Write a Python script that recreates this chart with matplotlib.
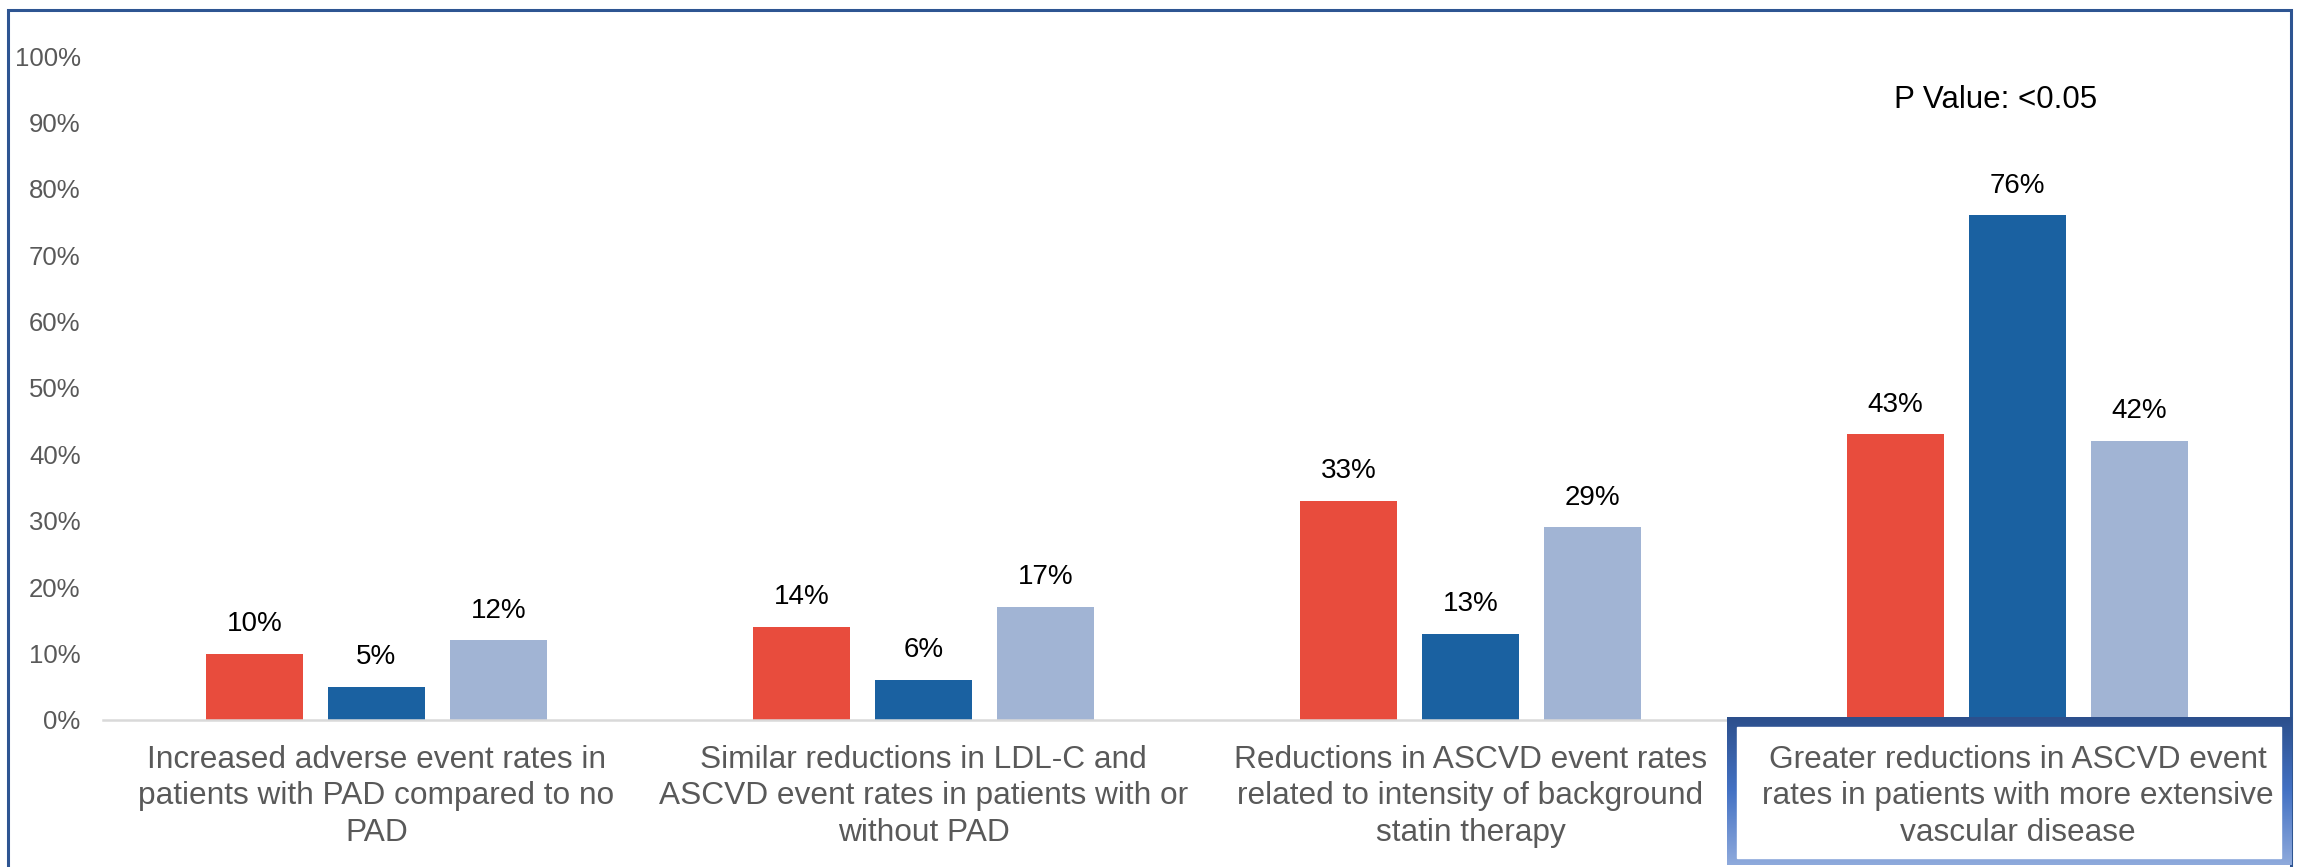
import numpy as np
import matplotlib
matplotlib.use("Agg")
import matplotlib.pyplot as plt
from matplotlib.patches import Rectangle
from matplotlib.transforms import blended_transform_factory

plt.rcParams['font.family'] = ['Liberation Sans', 'DejaVu Sans']

# 数据
categories = [
    "Increased adverse event rates in\npatients with PAD compared to no\nPAD",
    "Similar reductions in LDL-C and\nASCVD event rates in patients with or\nwithout PAD",
    "Reductions in ASCVD event rates\nrelated to intensity of background\nstatin therapy",
    "Greater reductions in ASCVD event\nrates in patients with more extensive\nvascular disease",
]
red_vals = [10, 14, 33, 43]
blue_vals = [5, 6, 13, 76]
light_vals = [12, 17, 29, 42]
yticks = [0, 10, 20, 30, 40, 50, 60, 70, 80, 90, 100]
p_text = "P Value: <0.05"

colors = ["#E84C3D", "#1A61A1", "#A1B4D4"]
series = [red_vals, blue_vals, light_vals]

fig = plt.figure(figsize=(23.03, 8.67), dpi=100)
ax = fig.add_axes([0.0447, 0.1696, 0.9501, 0.7658])
ax.set_zorder(1)

x = np.arange(len(categories))
w = 0.177
offs = [-0.223, 0, 0.223]
for vals, c, o in zip(series, colors, offs):
    bars = ax.bar(x + o, vals, width=w, color=c, zorder=2)
    for b, v in zip(bars, vals):
        ax.annotate(f"{v}%", (b.get_x() + b.get_width() / 2, v),
                    xytext=(0, 12), textcoords="offset points",
                    ha="center", va="bottom", fontsize=20, color="black")

ax.set_xlim(-0.5, 3.5)
ax.set_ylim(0, 100)
ax.set_yticks(yticks)
ax.set_yticklabels([f"{t}%" for t in yticks], fontsize=18.5, color="#595959")
ax.tick_params(axis="y", length=0, pad=16)
ax.set_xticks([])
for s in ["top", "right", "left"]:
    ax.spines[s].set_visible(False)
ax.spines["bottom"].set_color("#D9D9D9")
ax.spines["bottom"].set_linewidth(1.8)

ax.text(2.96, 93.4, p_text, ha="center", va="center", fontsize=22.5, color="black")

# 右下角的强调框（渐变边框）
bx = fig.add_axes([0.7499, 0.0023, 0.2449, 0.1707])
bx.set_zorder(2)
grad = np.linspace(0, 1, 256).reshape(-1, 1)
cmap = matplotlib.colors.LinearSegmentedColormap.from_list(
    "edge", ["#2C4F8C", "#4472C4", "#8FAADC"])
bx.imshow(grad, aspect="auto", cmap=cmap, extent=[0, 1, 0, 1], origin="upper")
bx.add_patch(Rectangle((0.017, 0.047), 0.966, 0.886, color="white"))
bx.set_xlim(0, 1)
bx.set_ylim(0, 1)
bx.axis("off")

# 分类标签放在最上层
tr = blended_transform_factory(ax.transData, fig.transFigure)
for i, lab in enumerate(categories):
    fig.text(i, 0.1407, lab, transform=tr, ha="center", va="top",
             fontsize=22.8, color="#595959", linespacing=1.28, zorder=5)

# 外框
fig.patches.append(Rectangle((8, -20), 2283, 882 - 5, transform=None,
                             fill=False, edgecolor="#2E5592", linewidth=2.2))

fig.savefig("out.png", dpi=100)
